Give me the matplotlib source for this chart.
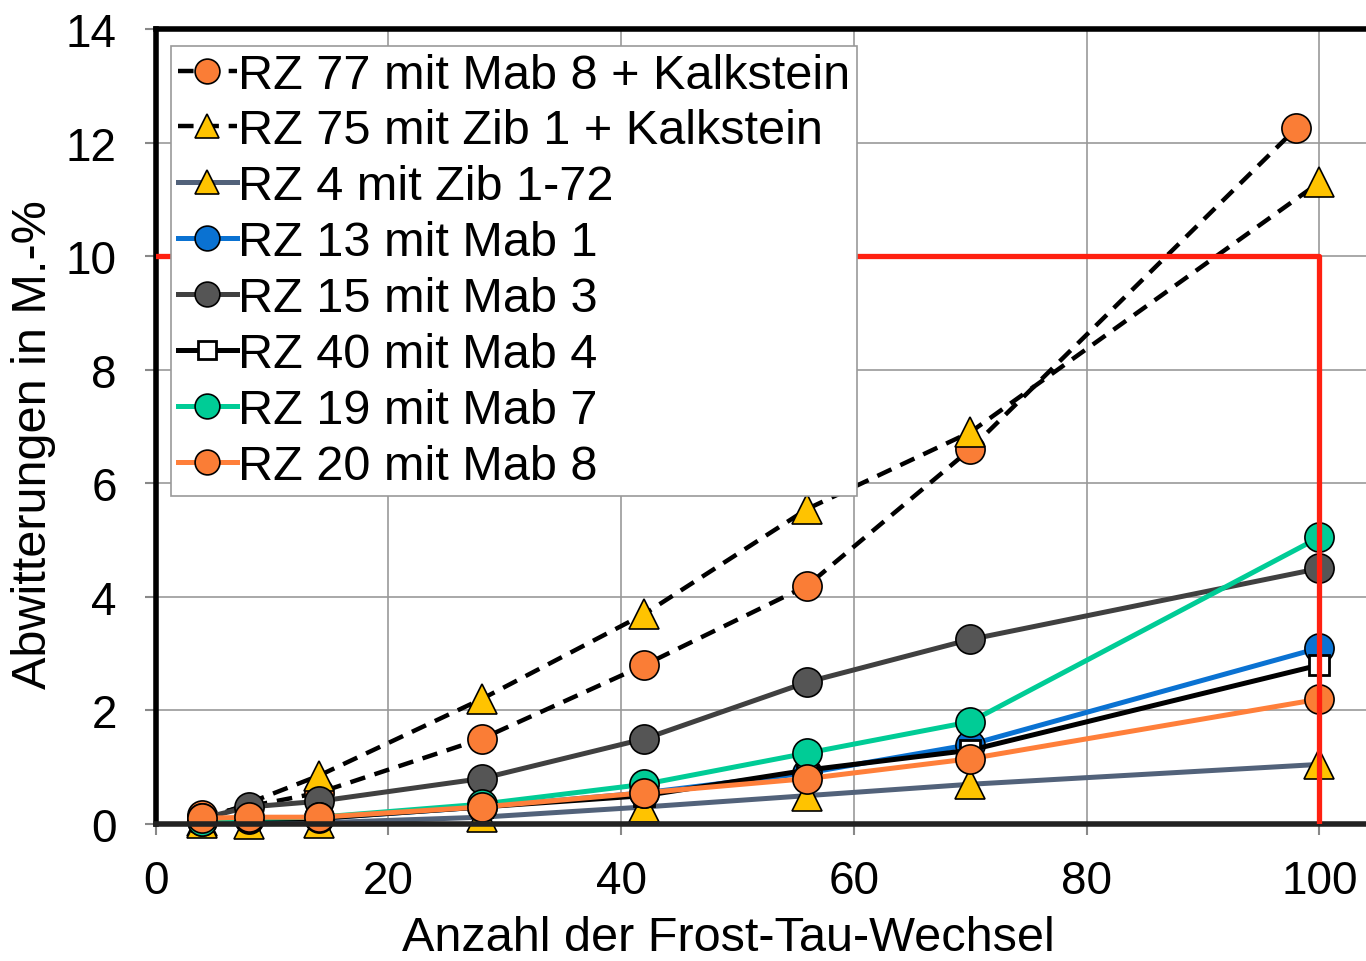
import matplotlib.pyplot as plt

plt.rcParams['font.family'] = ['Liberation Sans', 'DejaVu Sans']

# Frost-Tau-Wechsel (x) und Abwitterungen in M.-% (y)
x_solid = [4, 8, 14, 28, 42, 56, 70, 100]
x_rz77 = [4, 14, 28, 42, 56, 70, 98]
x_rz75 = [4, 14, 28, 42, 56, 70, 100]

rz77 = [0.15, 0.55, 1.5, 2.8, 4.2, 6.6, 12.25]
rz75 = [0.05, 0.85, 2.2, 3.7, 5.55, 6.9, 11.3]
rz4 = [0.02, 0.0, 0.02, 0.12, 0.3, 0.5, 0.7, 1.05]
rz13 = [0.05, 0.08, 0.1, 0.3, 0.55, 0.9, 1.4, 3.1]
rz15 = [0.1, 0.3, 0.4, 0.8, 1.5, 2.5, 3.25, 4.5]
rz40 = [0.05, 0.08, 0.1, 0.3, 0.5, 0.95, 1.3, 2.8]
rz19 = [0.05, 0.1, 0.12, 0.35, 0.7, 1.25, 1.8, 5.05]
rz20 = [0.1, 0.12, 0.12, 0.3, 0.55, 0.8, 1.15, 2.2]

grenz_x = [0, 100, 100]
grenz_y = [10, 10, 0]

fig = plt.figure(figsize=(13.66, 9.62), dpi=100)
ax = fig.add_axes([0.114, 0.1424, 0.886, 0.8264])

orange = '#FA7D36'
yellow = '#FFC300'
ms = 21
mew = 1.2
lw = 3.6
dash = (0, (3.5, 2.2))

ax.plot(x_rz77, rz77, color='black', lw=3.2, ls=dash, marker='o',
        ms=ms, mfc=orange, mec='black', mew=mew, label='RZ 77 mit Mab 8 + Kalkstein', clip_on=False)
ax.plot(x_rz75, rz75, color='black', lw=3.2, ls=dash, marker='^',
        ms=ms, mfc=yellow, mec='black', mew=mew, label='RZ 75 mit Zib 1 + Kalkstein', clip_on=False)
ax.plot(x_solid, rz4, color='#52627A', lw=lw, marker='^',
        ms=ms, mfc=yellow, mec='black', mew=mew, label='RZ 4 mit Zib 1-72', clip_on=False)
ax.plot(x_solid, rz13, color='#0A72D2', lw=lw, marker='o',
        ms=ms, mfc='#0A72D2', mec='black', mew=mew, label='RZ 13 mit Mab 1', clip_on=False)
ax.plot(x_solid, rz15, color='#404040', lw=lw, marker='o',
        ms=ms, mfc='#555555', mec='black', mew=mew, label='RZ 15 mit Mab 3', clip_on=False)
ax.plot(x_solid, rz40, color='black', lw=lw, marker='s',
        ms=15, mfc='white', mec='black', mew=2, label='RZ 40 mit Mab 4', clip_on=False)
ax.plot(x_solid, rz19, color='#00CC96', lw=lw, marker='o',
        ms=ms, mfc='#00CC96', mec='black', mew=mew, label='RZ 19 mit Mab 7', clip_on=False)
ax.plot(x_solid, rz20, color='#FF7F3A', lw=lw, marker='o',
        ms=ms, mfc=orange, mec='black', mew=mew, label='RZ 20 mit Mab 8', clip_on=False)

ax.plot(grenz_x, grenz_y, color='#FF2010', lw=3.8, zorder=5)

ax.set_xlim(0, 104)
ax.set_ylim(0, 14)
ax.set_xticks([0, 20, 40, 60, 80, 100])
ax.set_yticks(range(0, 15, 2))
ax.grid(True, color='#999999', lw=1.2)
ax.set_axisbelow(True)
ax.tick_params(labelsize=33, length=8, width=1.5, color='#888888')
ax.tick_params(axis='y', pad=20)
ax.tick_params(axis='x', pad=17)
ax.spines['right'].set_visible(False)
for s in ['left', 'top']:
    ax.spines[s].set_linewidth(4)
    ax.spines[s].set_color('black')
ax.spines['bottom'].set_linewidth(4)
ax.spines['bottom'].set_color('#222222')

ax.set_xlabel('Anzahl der Frost-Tau-Wechsel', fontsize=35)
ax.set_ylabel('Abwitterungen in M.-%', fontsize=35)
ax.xaxis.set_label_coords(0.473, -0.115)
ax.yaxis.set_label_coords(-0.082, 0.478)

leg = ax.legend(loc='upper left', bbox_to_anchor=(0.0124, 0.979), fontsize=35,
                handlelength=1.22, handletextpad=0.02, labelspacing=0.225,
                borderpad=0.14, borderaxespad=0, fancybox=False, framealpha=1,
                edgecolor='#999999', markerscale=0.85)
leg.set_zorder(10)
leg.get_frame().set_linewidth(1.2)

fig.savefig('out.png', dpi=100)
